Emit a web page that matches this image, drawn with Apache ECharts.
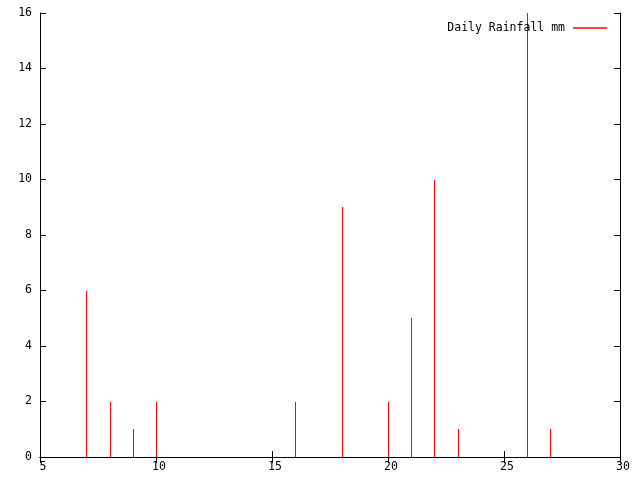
<!DOCTYPE html>
<html><head><meta charset="utf-8">
<script src="https://cdn.jsdelivr.net/npm/echarts@6/dist/echarts.min.js"></script>
<style>html,body{margin:0;padding:0;background:#fff}#c{width:640px;height:480px}</style>
</head><body><div id="c"></div>
<script>
const days = [7, 8, 9, 10, 16, 18, 20, 21, 22, 23, 26, 27];
const rainfall = [6, 2, 1, 2, 2, 9, 2, 5, 10, 1, 16, 1];
const seriesName = 'Daily Rainfall mm';

const chart = echarts.init(document.getElementById('c'), null, {renderer: 'canvas'});
const font = {fontFamily: 'DejaVu Sans Mono', fontSize: 11.5, color: '#000'};
const axisLine = {show: true, lineStyle: {color: '#000', width: 1}};
const tick = {show: true, inside: true, length: 6, lineStyle: {color: '#000'}};
chart.setOption({
  animation: false,
  backgroundColor: '#fff',
  grid: {left: 40, right: 20, top: 13, bottom: 23},
  legend: {
    data: [{name: seriesName, icon: 'rect', itemStyle: {color: '#ff0000'}}],
    right: 28, top: 17, align: 'right',
    itemWidth: 34, itemHeight: 1.5, itemGap: 0,
    textStyle: Object.assign({}, font, {padding: [0, 3, 0, 0]})
  },
  xAxis: [
    {type: 'value', min: 5, max: 30, interval: 5, position: 'bottom',
     axisLine: axisLine, axisTick: tick, splitLine: {show: false},
     axisLabel: Object.assign({margin: 4, padding: [0, 0, 0, 6]}, font)},
    {type: 'value', min: 5, max: 30, interval: 5, position: 'top',
     axisLine: axisLine, axisTick: tick, splitLine: {show: false},
     axisLabel: {show: false}}
  ],
  yAxis: [
    {type: 'value', min: 0, max: 16, interval: 2, position: 'left',
     axisLine: axisLine, axisTick: tick, splitLine: {show: false},
     axisLabel: Object.assign({margin: 8}, font)},
    {type: 'value', min: 0, max: 16, interval: 2, position: 'right',
     axisLine: axisLine, axisTick: tick, splitLine: {show: false},
     axisLabel: {show: false}}
  ],
  series: [{
    name: seriesName, type: 'custom',
    itemStyle: {color: '#ff0000'},
    data: days.map((d, i) => [d, rainfall[i]]),
    renderItem: function (params, api) {
      const top = api.coord([api.value(0), api.value(1)]);
      const base = api.coord([api.value(0), 0]);
      const x = Math.round(top[0]) + 0.5;
      return {
        type: 'line',
        shape: {x1: x, y1: Math.round(base[1]), x2: x, y2: Math.round(top[1])},
        style: {stroke: '#ff0000', lineWidth: 1}
      };
    }
  }]
});
</script></body></html>
